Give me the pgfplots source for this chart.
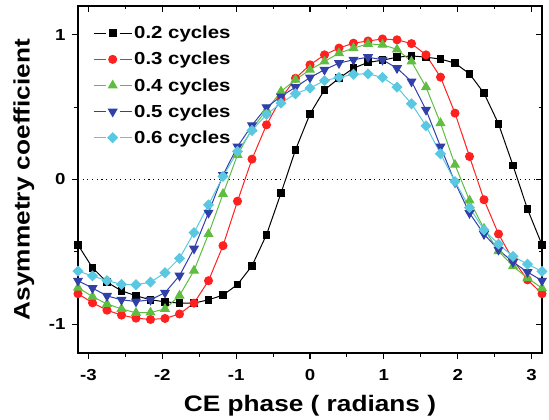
\documentclass[border=0pt]{standalone}
\usepackage{fontspec}
\setmainfont{Liberation Sans}[FakeStretch=1.17]
\usepackage{pgfplots}
\pgfplotsset{compat=1.18}
\usepackage{pgfplotstable}

\definecolor{cred}{RGB}{255,32,32}
\definecolor{cgreen}{RGB}{95,190,65}
\definecolor{cblue}{RGB}{48,64,168}
\definecolor{ccyan}{RGB}{90,200,224}

\pgfplotstableread{
x a b c d e
-3.1416 -0.452 -0.790 -0.748 -0.700 -0.633
-2.9452 -0.611 -0.853 -0.810 -0.751 -0.667
-2.7489 -0.710 -0.904 -0.861 -0.805 -0.700
-2.5525 -0.770 -0.938 -0.895 -0.832 -0.725
-2.3562 -0.804 -0.959 -0.922 -0.844 -0.728
-2.1598 -0.832 -0.968 -0.920 -0.832 -0.710
-1.9635 -0.846 -0.961 -0.895 -0.783 -0.645
-1.7671 -0.855 -0.930 -0.803 -0.665 -0.545
-1.5708 -0.855 -0.855 -0.630 -0.478 -0.368
-1.3744 -0.832 -0.700 -0.377 -0.230 -0.175
-1.1781 -0.800 -0.458 -0.100 0.030 0.021
-0.9817 -0.726 -0.150 0.170 0.228 0.194
-0.7854 -0.597 0.141 0.350 0.375 0.339
-0.5890 -0.382 0.378 0.480 0.500 0.450
-0.3927 -0.094 0.560 0.609 0.574 0.528
-0.1963 0.205 0.700 0.690 0.639 0.593
0.0000 0.454 0.793 0.759 0.705 0.632
0.1963 0.620 0.862 0.816 0.759 0.684
0.3927 0.700 0.909 0.874 0.805 0.706
0.5890 0.770 0.943 0.909 0.828 0.728
0.7854 0.810 0.958 0.938 0.846 0.731
0.9817 0.825 0.972 0.932 0.828 0.706
1.1781 0.846 0.966 0.900 0.770 0.639
1.3744 0.855 0.940 0.816 0.678 0.524
1.5708 0.846 0.862 0.639 0.482 0.371
1.7671 0.833 0.708 0.390 0.228 0.178
1.9635 0.805 0.459 0.102 -0.020 -0.014
2.1598 0.731 0.159 -0.145 -0.232 -0.194
2.3562 0.597 -0.140 -0.340 -0.378 -0.348
2.5525 0.385 -0.377 -0.495 -0.486 -0.447
2.7489 0.097 -0.555 -0.600 -0.571 -0.532
2.9452 -0.205 -0.694 -0.682 -0.640 -0.585
3.1416 -0.452 -0.790 -0.751 -0.700 -0.636
}\data

\begin{document}
\begin{tikzpicture}
\begin{axis}[
  name=main,
  scale only axis, width=464bp, height=347bp,
  xmin=-3.1416, xmax=3.1416, ymin=-1.2, ymax=1.2,
  axis line style={line width=1.3bp},
  xtick={-3,-2,-1,0,1,2,3}, xticklabels={-3,-2,-1,0,1,2,3},
  minor xtick={-2.5,-1.5,-0.5,0.5,1.5,2.5},
  ytick={-1,0,1}, yticklabels={-1,0,1},
  minor ytick={-0.5,0.5},
  xtick pos=bottom, ytick pos=left, tick align=outside,
  major tick length=6bp, minor tick length=3.5bp,
  tick style={line width=1.1bp, black},
  ticklabel style={font=\fontsize{16}{18}\selectfont\bfseries},
  xticklabel style={yshift=-7bp},
  yticklabel style={xshift=-3bp},
  xlabel={CE phase ( radians )}, ylabel={Asymmetry coefficient},
  label style={font=\fontsize{22.5}{26}\selectfont\bfseries},
  xlabel style={at={(axis description cs:0.5,-0.152)}, anchor=center},
  ylabel style={at={(axis description cs:-0.1165,0.5)}, anchor=center},
  legend style={at={(axis description cs:0,1)}, anchor=north west, xshift=12bp, yshift=-16bp,
    draw=none, fill=none, font=\fontsize{17.5}{20}\selectfont\bfseries, row sep=8bp},
  legend cell align=left,
  legend image code/.code={
    \draw[mark=none] (0bp,0bp) -- (12bp,0bp);
    \draw[mark=none] (26bp,0bp) -- (38bp,0bp);
    \draw plot[only marks] coordinates {(19bp,0bp)};
  },
  every axis plot/.append style={line width=1bp},
]
\addplot[black, line width=1.1bp, dash pattern=on 1.1bp off 3.6bp, forget plot] coordinates {(-3.1416,0) (3.1416,0)};
\addplot[black, mark=square*, mark size=3.4bp] table[x=x,y=a]{\data};
\addplot[cred, mark=*, mark size=4bp] table[x=x,y=b]{\data};
\addplot[cgreen, mark=triangle*, mark size=4.9bp] table[x=x,y=c]{\data};
\addplot[cblue, mark=triangle*, mark size=4.9bp, mark options={rotate=180}] table[x=x,y=d]{\data};
\addplot[ccyan, mark=square*, mark size=3.4bp, mark options={rotate=45}] table[x=x,y=e]{\data};
\legend{0.2 cycles, 0.3 cycles, 0.4 cycles, 0.5 cycles, 0.6 cycles}
\end{axis}
\begin{axis}[
  scale only axis, width=464bp, height=347bp,
  xmin=-3.1416, xmax=3.1416, ymin=-1.2, ymax=1.2,
  axis line style={draw=none},
  xtick={-3,-2,-1,0,1,2,3}, xticklabels={},
  minor xtick={-2.5,-1.5,-0.5,0.5,1.5,2.5},
  ytick={-1,0,1}, yticklabels={},
  minor ytick={-0.5,0.5},
  xtick pos=top, ytick pos=right, tick align=inside,
  major tick length=6bp, minor tick length=3.5bp,
  tick style={line width=1.1bp, black},
]
\end{axis}
\pgfresetboundingbox
\path[use as bounding box] ([shift={(-78bp,-67bp)}]main.south west) rectangle ([shift={(7bp,6bp)}]main.north east);
\end{tikzpicture}
\end{document}
